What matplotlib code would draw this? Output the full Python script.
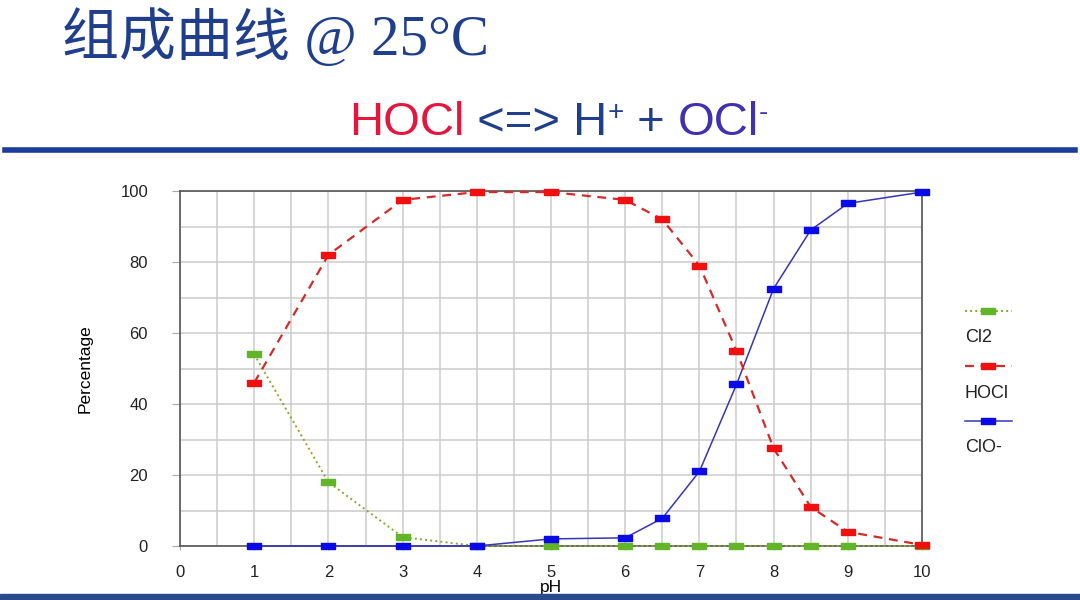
import numpy as np
import matplotlib.pyplot as plt
from matplotlib.lines import Line2D

# data
ph = [1, 2, 3, 4, 5, 6, 6.5, 7, 7.5, 8, 8.5, 9, 10]
cl2 = [54, 18, 2.5, 0, 0, 0, 0, 0, 0, 0, 0, 0, 0]
hocl = [46, 82, 97.5, 99.7, 99.7, 97.5, 92, 79, 55, 27.5, 11, 4, 0.3]
clo = [0, 0, 0, 0, 2, 2.3, 7.8, 21, 45.5, 72.5, 89, 96.5, 99.7]
names = ['Cl2', 'HOCl', 'ClO-']
draw_order = ['Cl2', 'ClO-', 'HOCl']
series = {'Cl2': cl2, 'HOCl': hocl, 'ClO-': clo}

# flat rectangle marker like the original
rect = [(-1, -0.5), (1, -0.5), (1, 0.5), (-1, 0.5), (-1, -0.5)]

styles = {
    'Cl2': dict(color='#86a82c', ls=':', lw=1.4, mfc='#62b526', mec='#62b526'),
    'HOCl': dict(color='#d42a2a', ls=(0, (4, 3)), lw=1.6, mfc='#f01010', mec='#f01010'),
    'ClO-': dict(color='#3535b5', ls='-', lw=1.1, mfc='#0a0ae6', mec='#0a0ae6'),
}

fig = plt.figure(figsize=(10.8, 6), dpi=100)
ax = fig.add_axes([180/1080, 1-546/600, (922-180)/1080, (546-191)/600])

for name in draw_order:
    s = styles[name]
    ax.plot(ph, series[name], color=s['color'], ls=s['ls'], lw=s['lw'], marker=rect, ms=10,
            mfc=s['mfc'], mec=s['mec'], clip_on=False, zorder=3)

ax.set_xlim(0, 10)
ax.set_ylim(0, 100)
ax.set_xticks(np.arange(0, 11, 1))
ax.set_xticks(np.arange(0, 10.5, 0.5), minor=True)
ax.set_yticks(np.arange(0, 101, 20))
ax.set_yticks(np.arange(0, 101, 10), minor=True)
ax.grid(which='both', color='#cccccc', lw=1.1)
ax.set_axisbelow(True)
ax.tick_params(which='both', length=0, labelsize=12, colors='#222222')
ax.tick_params(axis='x', which='major', length=3, color='#aaaaaa', pad=11)
ax.tick_params(axis='y', which='major', length=6, color='#aaaaaa', pad=17)
for sp in ax.spines.values():
    sp.set_color('#555555')
    sp.set_linewidth(1.2)
ax.set_xlabel('pH', fontsize=12.5, labelpad=0, family='Liberation Sans')
ax.set_ylabel('Percentage', fontsize=12.5, labelpad=20, family='Liberation Sans')
for t in ax.get_xticklabels() + ax.get_yticklabels():
    t.set_family('Liberation Sans')

# legend: sample line above, label below
for i, name in enumerate(names):
    s = styles[name]
    y0 = 1 - (311 + 55*i)/600
    fig.add_artist(Line2D([965/1080, 1012/1080], [y0, y0], color=s['color'], ls=s['ls'], lw=s['lw']))
    fig.add_artist(Line2D([988/1080], [y0], marker=rect, ms=10, mfc=s['mfc'], mec=s['mec'], ls='none'))
    fig.text(965/1080, y0 - 27/600, name, fontsize=13, family='Liberation Sans',
             color='#222222', va='center', ha='left')

# slide title
fig.text(62/1080, 1-38/600, '组成曲线 @ 25°C', fontsize=41, color='#1f3f8c',
         family=['Liberation Serif', 'Noto Sans CJK SC'], va='center', ha='left')

# equation line, superscripts as small raised text
parts = [('HOCl', '#e4163e', 0), (' <=> H', '#1f3f8c', 0), ('+', '#1f3f8c', 1),
         (' + ', '#1f3f8c', 0), ('OCl', '#4031b0', 0), ('-', '#4031b0', 1)]
fig.canvas.draw()
r = fig.canvas.get_renderer()
x = 349
for txt, col, sup in parts:
    if sup:
        t = fig.text(x/1080, 1-113/600, txt, fontsize=20, color=col,
                     family='Liberation Sans', va='center', ha='left')
    else:
        t = fig.text(x/1080, 1-123/600, txt, fontsize=34, color=col,
                     family='Liberation Sans', va='center', ha='left')
    x += t.get_window_extent(r).width

fig.add_artist(Line2D([5/1080, 1075/1080], [1-150/600, 1-150/600], color='#1a3d9c', lw=4))
fig.add_artist(plt.Rectangle((0, 0), 1, 6/600, color='#2a4a8c', transform=fig.transFigure, zorder=10))

fig.savefig('out.png', dpi=100)
